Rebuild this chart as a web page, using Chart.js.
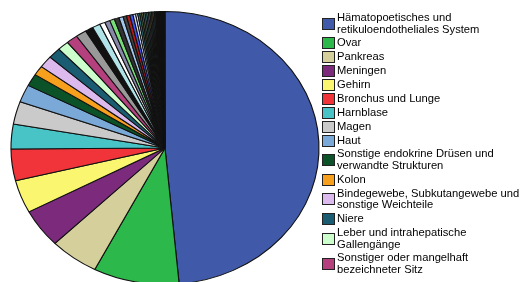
<!DOCTYPE html>
<html>
<head>
<meta charset="utf-8">
<script src="https://cdn.jsdelivr.net/npm/chart.js@4/dist/chart.umd.min.js"></script>
<style>
  html, body { margin: 0; padding: 0; background: #fff; overflow: hidden; }
  #wrap { position: relative; width: 521px; height: 282px; overflow: hidden; }
  #pie { position: absolute; left: 0; top: 0; }
  #legend { position: absolute; left: 322px; top: 12px; width: 205px;
    font-family: "Liberation Sans", Arial, sans-serif; font-size: 11.2px; color: #000; }
  .item { display: flex; align-items: center; margin-bottom: 1.9px; }
  .box { flex: none; width: 11px; height: 10px; border: 1px solid #222; margin-right: 2px; }
  .txt { line-height: 11.7px; }
</style>
</head>
<body>
<div id="wrap">
  <canvas id="pie" width="330" height="300"></canvas>
  <div id="legend"></div>
</div>
<script>
// ---- data (percent shares) ----
const categories = [
  "Hämatopoetisches und retikuloendotheliales System",
  "Ovar",
  "Pankreas",
  "Meningen",
  "Gehirn",
  "Bronchus und Lunge",
  "Harnblase",
  "Magen",
  "Haut",
  "Sonstige endokrine Drüsen und verwandte Strukturen",
  "Kolon",
  "Bindegewebe, Subkutangewebe und sonstige Weichteile",
  "Niere",
  "Leber und intrahepatische Gallengänge",
  "Sonstiger oder mangelhaft bezeichneter Sitz",
  "Prostata", "Brustdrüse", "Rektum", "Schilddrüse", "Hoden",
  "Knochen und Gelenkknorpel", "Auge und Adnexe", "Nebenniere", "Rückenmark",
  "Periphere Nerven", "Ösophagus", "Dünndarm", "Gallenblase", "Uterus",
  "Zervix uteri", "Vagina", "Vulva", "Penis", "Nierenbecken", "Ureter",
  "Thymus", "Herz und Mediastinum", "Pleura", "Larynx", "Mundhöhle",
  "Speicheldrüsen", "Nasopharynx", "Oropharynx", "Hypopharynx", "Nasenhöhle",
  "Retroperitoneum", "Peritoneum", "Lymphknoten", "Plazenta", "Anus",
  "Appendix"
];
const shares = [
  48.53, 9.00, 5.14, 4.58, 3.89, 3.75, 2.92, 2.69, 2.08, 1.44,
  1.14, 1.42, 1.31, 1.19, 1.19,
  1.11, 0.83, 0.83, 0.56, 0.56, 0.50, 0.50, 0.44, 0.36, 0.36,
  0.33, 0.28, 0.22, 0.22,
  0.19, 0.18, 0.18, 0.17, 0.17, 0.16, 0.16, 0.15, 0.15, 0.14,
  0.10, 0.10, 0.09, 0.09, 0.08, 0.08, 0.08, 0.08, 0.07, 0.07, 0.07, 0.06
];
const colors = [
  "#4059a9", "#2db84b", "#d5cf9b", "#7b2a7c", "#fbf66f", "#f0343a", "#48c3c6",
  "#cacaca", "#7aa9d8", "#0b5229", "#f7a01d", "#dcbaee", "#1a5d73", "#ccffcc",
  "#b5407e",
  "#999999", "#111111", "#b0e4e8", "#ffffff", "#8888aa", "#77dd77", "#333333",
  "#a3c8ef", "#444444", "#b31b1b", "#4455ee", "#c8d8ff", "#ffffff", "#2a8c9c",
  "#5a8a5a", "#8c8c4c", "#669999", "#4cb0b0", "#7a6a9a", "#9aa04a", "#3c7c6c",
  "#a08c5c", "#5c7cac", "#6a9a4a",
  "#222222", "#3a3a3a", "#1a1a1a", "#444433", "#222222", "#333344", "#111111",
  "#2a2a2a", "#1a1a1a", "#333333", "#222222", "#111111"
];
const legendCount = 15;

// ---- layout constants ----
const STRETCH_X = 154 / 136.5;

const ellipse = {
  id: 'ellipse',
  beforeDatasetsDraw(chart) {
    const arc = chart.getDatasetMeta(0).data[0];
    const ctx = chart.ctx;
    ctx.save();
    ctx.translate(arc.x, arc.y);
    ctx.scale(STRETCH_X, 1);
    ctx.translate(-arc.x, -arc.y);
  },
  afterDatasetsDraw(chart) { chart.ctx.restore(); }
};

new Chart(document.getElementById('pie'), {
  type: 'pie',
  data: {
    labels: categories,
    datasets: [{
      data: shares,
      backgroundColor: colors,
      borderColor: '#111111',
      borderWidth: 1
    }]
  },
  options: {
    responsive: false,
    animation: false,
    layout: { padding: { left: 28, right: 28, top: 11, bottom: 15 } },
    plugins: { legend: { display: false }, tooltip: { enabled: false } }
  },
  plugins: [ellipse]
});

const leg = document.getElementById('legend');
for (let i = 0; i < legendCount; i++) {
  const it = document.createElement('div'); it.className = 'item';
  const b = document.createElement('div'); b.className = 'box'; b.style.background = colors[i];
  const t = document.createElement('div'); t.className = 'txt'; t.textContent = categories[i];
  it.appendChild(b); it.appendChild(t); leg.appendChild(it);
}
</script>
</body>
</html>
